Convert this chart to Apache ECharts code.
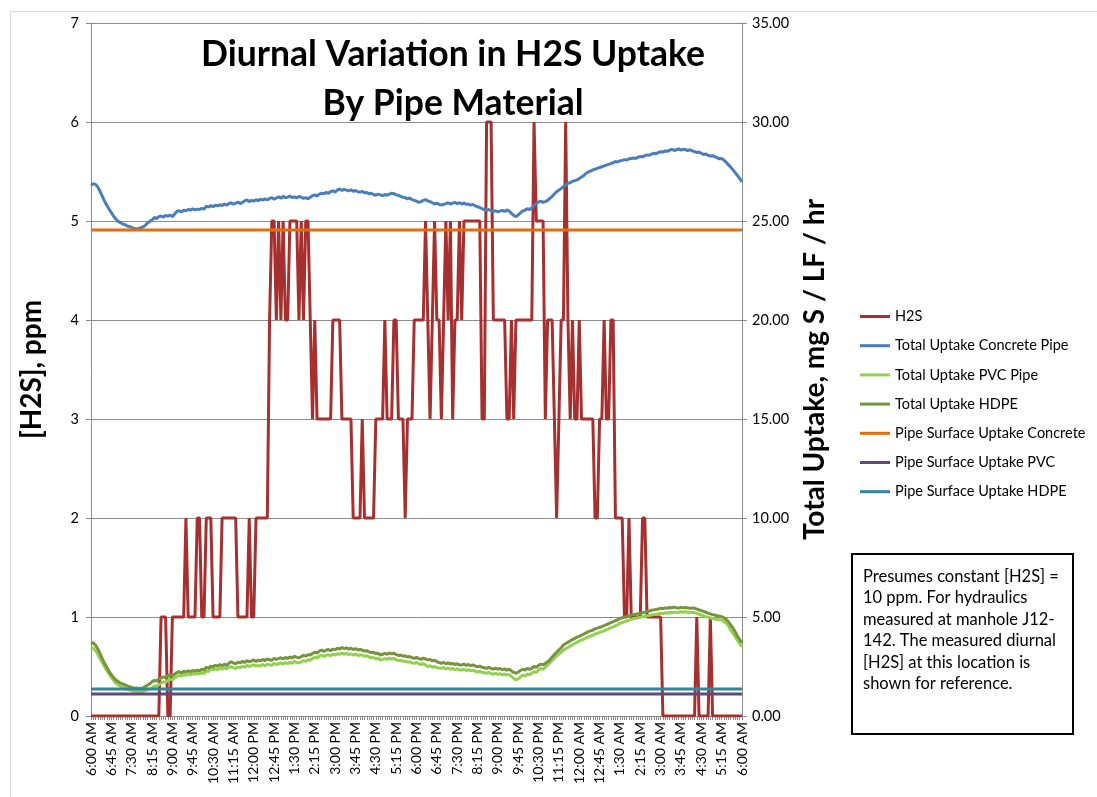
<!DOCTYPE html>
<html>
<head>
<meta charset="utf-8">
<script src="https://cdn.jsdelivr.net/npm/echarts@6.0.0/dist/echarts.min.js"></script>
<style>
  html, body { margin: 0; padding: 0; background: #ffffff; }
  #chart { width: 1097px; height: 797px; }
</style>
</head>
<body>
<div id="chart"></div>
<script>
// Measured [H2S] (ppm), one reading every 5 minutes from 6:00 AM to 6:00 AM
const h2s = [
  0,0,0,0,0,0,0,0,0,0,0,0,
  0,0,0,0,0,0,0,0,0,0,0,0,
  0,0,0,0,0,0,0,1,1,1,0,0,
  1,1,1,1,1,1,2,1,1,1,1,2,
  2,1,1,2,2,2,1,1,1,1,2,2,
  2,2,2,2,2,1,1,1,1,1,2,1,
  1,2,2,2,2,2,2,4,5,5,4,5,
  4,5,4,4,5,5,5,5,4,5,4,5,
  5,4,3,4,3,3,3,3,3,3,3,4,
  4,4,4,3,3,3,3,3,2,2,2,2,
  3,2,2,2,2,2,3,3,3,3,4,3,
  3,3,4,4,3,3,3,2,3,3,3,4,
  4,4,4,4,5,4,3,4,5,4,4,3,
  4,5,4,5,3,4,4,5,4,5,5,5,
  5,5,5,5,5,3,3,6,6,6,4,4,
  4,4,4,4,3,3,4,3,4,4,4,4,
  4,4,4,4,6,5,5,5,5,3,4,4,
  4,3,2,3,4,4,6,4,3,4,3,3,
  4,3,3,3,3,3,3,2,2,3,3,4,
  3,3,4,4,2,2,2,2,1,1,2,1,
  1,1,1,1,2,2,1,1,1,1,1,1,
  1,0,0,0,0,0,0,0,0,0,0,0,
  0,0,0,0,1,0,0,0,0,0,1,0,
  0,0,0,0,0,0,0,0,0,0,0,0,
  0
];

// Total uptake, mg S / LF / hr
const totalConcrete = [
  26.80,26.88,26.85,26.72,26.50,26.25,26.00,25.80,25.60,25.42,25.25,25.10,
  24.98,24.92,24.85,24.82,24.75,24.72,24.68,24.62,24.60,24.62,24.66,24.70,
  24.78,24.90,24.98,25.05,25.18,25.12,25.22,25.25,25.20,25.28,25.24,25.30,
  25.22,25.35,25.48,25.52,25.45,25.55,25.52,25.58,25.55,25.62,25.56,25.60,
  25.58,25.64,25.60,25.75,25.70,25.78,25.72,25.80,25.76,25.82,25.78,25.86,
  25.80,25.88,25.92,25.85,25.90,25.96,25.88,25.94,26.02,26.06,25.98,26.04,
  26.00,26.08,26.02,26.10,26.05,26.12,26.06,26.14,26.18,26.10,26.16,26.22,
  26.15,26.24,26.18,26.20,26.26,26.18,26.22,26.16,26.24,26.20,26.14,26.18,
  26.12,26.20,26.28,26.32,26.26,26.36,26.40,26.38,26.44,26.40,26.48,26.52,
  26.46,26.56,26.62,26.54,26.60,26.56,26.52,26.58,26.50,26.54,26.48,26.46,
  26.50,26.42,26.44,26.38,26.40,26.34,26.30,26.36,26.32,26.28,26.34,26.30,
  26.36,26.40,26.38,26.32,26.30,26.24,26.20,26.18,26.12,26.16,26.08,26.04,
  26.00,25.94,25.98,26.04,26.08,26.02,25.98,25.92,25.86,25.90,25.84,25.80,
  25.84,25.88,25.92,25.86,25.90,25.94,25.88,25.92,25.86,25.90,25.84,25.86,
  25.80,25.84,25.76,25.72,25.68,25.62,25.58,25.54,25.58,25.52,25.48,25.52,
  25.46,25.50,25.54,25.48,25.56,25.50,25.38,25.28,25.22,25.30,25.42,25.50,
  25.55,25.62,25.58,25.66,25.80,25.88,25.96,26.00,25.94,25.98,26.04,26.14,
  26.24,26.36,26.48,26.56,26.64,26.74,26.82,26.90,26.94,27.00,27.04,27.08,
  27.14,27.22,27.30,27.40,27.48,27.52,27.58,27.62,27.66,27.70,27.74,27.78,
  27.82,27.86,27.90,27.94,28.00,27.98,28.04,28.06,28.10,28.08,28.14,28.16,
  28.18,28.16,28.22,28.26,28.24,28.30,28.34,28.32,28.38,28.42,28.40,28.46,
  28.50,28.48,28.54,28.52,28.58,28.62,28.56,28.60,28.64,28.58,28.62,28.60,
  28.56,28.60,28.54,28.50,28.46,28.48,28.42,28.36,28.38,28.32,28.28,28.30,
  28.24,28.20,28.14,28.16,28.08,27.96,27.84,27.72,27.58,27.44,27.30,27.14,
  26.98
];

const totalPVC = [
  3.48,3.42,3.30,3.12,2.90,2.68,2.49,2.30,2.12,1.96,1.80,1.65,
  1.58,1.50,1.46,1.40,1.36,1.32,1.28,1.23,1.26,1.22,1.25,1.24,
  1.28,1.32,1.36,1.40,1.52,1.48,1.58,1.66,1.73,1.70,1.80,1.86,
  1.82,1.92,2.00,2.07,2.02,2.10,2.06,2.12,2.08,2.14,2.10,2.16,
  2.12,2.18,2.14,2.28,2.24,2.41,2.34,2.38,2.34,2.42,2.36,2.44,
  2.38,2.46,2.49,2.44,2.40,2.48,2.44,2.52,2.46,2.56,2.50,2.54,
  2.58,2.52,2.56,2.52,2.60,2.54,2.62,2.58,2.56,2.66,2.60,2.64,
  2.68,2.62,2.70,2.64,2.72,2.66,2.76,2.70,2.68,2.74,2.80,2.76,
  2.84,2.82,2.90,2.96,2.92,3.02,3.08,3.00,3.06,3.10,3.04,3.12,
  3.08,3.14,3.12,3.17,3.12,3.16,3.10,3.14,3.08,3.12,3.06,3.08,
  3.08,3.02,3.04,2.98,2.94,2.96,2.88,2.92,2.83,2.86,2.90,2.86,
  2.92,2.88,2.91,2.84,2.80,2.82,2.76,2.78,2.72,2.74,2.68,2.66,
  2.70,2.64,2.60,2.64,2.58,2.49,2.54,2.46,2.50,2.44,2.42,2.41,
  2.44,2.38,2.42,2.36,2.40,2.34,2.38,2.32,2.32,2.36,2.30,2.34,
  2.28,2.32,2.26,2.22,2.26,2.20,2.18,2.16,2.20,2.14,2.10,2.16,
  2.10,2.14,2.08,2.12,2.07,2.10,2.00,1.90,1.82,1.88,1.98,2.06,
  2.02,2.12,2.08,2.16,2.24,2.20,2.32,2.40,2.36,2.46,2.58,2.68,
  2.80,2.92,3.02,3.12,3.22,3.33,3.40,3.46,3.54,3.60,3.66,3.72,
  3.78,3.84,3.88,3.94,4.00,4.04,4.08,4.14,4.18,4.22,4.26,4.30,
  4.36,4.40,4.46,4.50,4.56,4.60,4.68,4.72,4.76,4.80,4.84,4.88,
  4.92,4.94,4.96,4.99,5.02,5.04,5.06,5.08,5.10,5.12,5.14,5.16,
  5.19,5.17,5.21,5.19,5.23,5.21,5.25,5.22,5.24,5.27,5.24,5.26,
  5.24,5.22,5.24,5.22,5.18,5.14,5.10,5.06,5.02,4.99,4.96,4.92,
  4.90,4.88,4.86,4.85,4.78,4.68,4.56,4.34,4.18,4.00,3.82,3.66,
  3.50
];

const totalHDPE = [
  3.65,3.70,3.58,3.40,3.15,2.90,2.66,2.45,2.25,2.08,1.95,1.82,
  1.74,1.66,1.62,1.57,1.52,1.48,1.44,1.40,1.42,1.38,1.40,1.42,
  1.48,1.56,1.62,1.73,1.80,1.76,1.86,1.92,1.98,1.94,2.04,2.08,
  2.02,2.12,2.20,2.24,2.18,2.26,2.22,2.28,2.24,2.30,2.26,2.32,
  2.28,2.36,2.32,2.46,2.42,2.52,2.48,2.56,2.52,2.60,2.54,2.62,
  2.56,2.66,2.74,2.68,2.64,2.72,2.68,2.76,2.70,2.80,2.74,2.78,
  2.83,2.76,2.82,2.78,2.86,2.80,2.88,2.84,2.82,2.91,2.86,2.90,
  2.94,2.88,2.96,2.90,2.98,2.92,3.02,2.96,2.94,3.00,3.06,3.02,
  3.10,3.08,3.16,3.22,3.18,3.28,3.33,3.26,3.32,3.36,3.30,3.38,
  3.34,3.42,3.38,3.46,3.40,3.44,3.38,3.42,3.36,3.40,3.34,3.36,
  3.33,3.28,3.30,3.24,3.20,3.22,3.14,3.18,3.08,3.12,3.16,3.12,
  3.18,3.14,3.17,3.10,3.06,3.08,3.02,3.04,2.98,3.00,2.94,2.91,
  2.96,2.90,2.86,2.92,2.88,2.83,2.86,2.78,2.82,2.74,2.70,2.66,
  2.70,2.64,2.68,2.62,2.66,2.60,2.64,2.58,2.58,2.62,2.56,2.60,
  2.54,2.58,2.52,2.48,2.52,2.46,2.44,2.41,2.46,2.40,2.36,2.42,
  2.36,2.40,2.34,2.38,2.32,2.36,2.28,2.20,2.16,2.22,2.30,2.36,
  2.32,2.40,2.36,2.41,2.50,2.46,2.56,2.62,2.58,2.66,2.74,2.84,
  2.98,3.10,3.22,3.34,3.44,3.59,3.66,3.72,3.80,3.86,3.92,3.98,
  4.02,4.09,4.14,4.20,4.26,4.30,4.34,4.40,4.44,4.48,4.51,4.56,
  4.62,4.66,4.72,4.76,4.82,4.86,4.93,4.96,5.00,5.02,5.06,5.08,
  5.12,5.14,5.16,5.19,5.22,5.24,5.28,5.30,5.34,5.36,5.38,5.40,
  5.44,5.42,5.46,5.44,5.48,5.46,5.50,5.47,5.45,5.49,5.46,5.48,
  5.46,5.44,5.46,5.44,5.40,5.36,5.32,5.28,5.24,5.19,5.16,5.12,
  5.10,5.06,5.04,5.02,4.96,4.88,4.76,4.60,4.44,4.24,4.04,3.86,
  3.70
];

// Pipe surface uptake, constant over the day
const surfaceConcrete = 24.55;
const surfacePVC = 1.11;
const surfaceHDPE = 1.36;

const seriesNames = [
  'H2S',
  'Total Uptake Concrete Pipe',
  'Total Uptake PVC Pipe',
  'Total Uptake HDPE',
  'Pipe Surface Uptake Concrete',
  'Pipe Surface Uptake PVC',
  'Pipe Surface Uptake HDPE'
];

const noteLines = [
  'Presumes constant [H2S] =',
  '10 ppm. For hydraulics',
  'measured at manhole J12-',
  '142. The measured diurnal',
  '[H2S] at this location is',
  'shown for reference.'
];

// 5-minute time stamps for the category axis
function clock(minutes) {
  const h24 = Math.floor(minutes / 60) % 24;
  const mm = minutes % 60;
  const ap = h24 < 12 ? 'AM' : 'PM';
  let h = h24 % 12;
  if (h === 0) h = 12;
  return h + ':' + String(mm).padStart(2, '0') + ' ' + ap;
}
const times = [];
for (let k = 0; k < h2s.length; k++) times.push(clock(360 + 5 * k));
const lastIdx = times.length - 1;

const FONT = 'Lato, "Open Sans", sans-serif';
const GRID = '#8c8c8c';

const chart = echarts.init(document.getElementById('chart'), null, { renderer: 'canvas' });

function lineSeries(name, data, axis, color, z) {
  return {
    name, type: 'line', data, yAxisIndex: axis,
    showSymbol: false, symbol: 'none', silent: true, z,
    lineStyle: { color, width: 3 },
    itemStyle: { color },
    emphasis: { disabled: true }
  };
}

const graphicItems = [
  // chart area frame
  { type: 'rect', shape: { x: 10.5, y: 11.5, width: 1100, height: 800 },
    style: { fill: 'none', stroke: '#d9d9d9', lineWidth: 1 }, silent: true },
  // note box
  { type: 'rect', shape: { x: 852, y: 554, width: 221, height: 180 },
    style: { fill: '#ffffff', stroke: '#000000', lineWidth: 2 }, silent: true },
  { type: 'text', left: 863, top: 566,
    style: { text: noteLines.join('\n'), font: '16.5px ' + FONT, fill: '#000', lineHeight: 21.4 },
    silent: true }
];

chart.setOption({
  animation: false,
  backgroundColor: '#ffffff',
  title: {
    text: 'Diurnal Variation in H2S Uptake\nBy Pipe Material',
    left: 448, top: 25, textAlign: 'center',
    textStyle: { fontFamily: FONT, fontWeight: 'bold', fontSize: 35.5, color: '#000', lineHeight: 49 }
  },
  grid: { left: 91, right: 355, top: 23, bottom: 81, containLabel: false },
  legend: {
    orient: 'vertical', left: 855, top: 303,
    icon: 'rect', itemWidth: 30, itemHeight: 3, itemGap: 12.2,
    selectedMode: false,
    textStyle: { fontFamily: FONT, fontSize: 14.5, color: '#000', lineHeight: 17 },
    data: seriesNames
  },
  xAxis: {
    type: 'category', data: times, boundaryGap: false,
    axisLine: { lineStyle: { color: GRID, width: 1 } },
    axisTick: { show: true, interval: 0, length: 4, lineStyle: { color: GRID } },
    axisLabel: { interval: 8, rotate: 90, margin: 6, fontFamily: FONT, fontSize: 14, color: '#000' },
    splitLine: { show: false }
  },
  yAxis: [
    {
      type: 'value', min: 0, max: 7, interval: 1, position: 'left',
      name: '[H2S], ppm', nameLocation: 'middle', nameRotate: 90, nameGap: 45,
      nameTextStyle: { fontFamily: FONT, fontWeight: 'bold', fontSize: 28, color: '#000' },
      axisLine: { show: true, lineStyle: { color: GRID } },
      axisTick: { show: true, length: 5, lineStyle: { color: GRID } },
      axisLabel: { margin: 12, fontFamily: FONT, fontSize: 14.5, color: '#000' },
      splitLine: { show: true, lineStyle: { color: GRID, width: 1 } }
    },
    {
      type: 'value', min: 0, max: 35, interval: 5, position: 'right',
      name: 'Total Uptake, mg S / LF / hr', nameLocation: 'middle', nameRotate: 90, nameGap: 59,
      nameTextStyle: { fontFamily: FONT, fontWeight: 'bold', fontSize: 28, color: '#000' },
      axisLine: { show: true, lineStyle: { color: GRID } },
      axisTick: { show: true, length: 5, lineStyle: { color: GRID } },
      axisLabel: { margin: 10, fontFamily: FONT, fontSize: 14.5, color: '#000',
                   formatter: v => v.toFixed(2) },
      splitLine: { show: false }
    }
  ],
  series: [
    lineSeries(seriesNames[0], h2s, 0, '#a5302f', 2),
    lineSeries(seriesNames[1], totalConcrete, 1, '#4a7ebb', 3),
    lineSeries(seriesNames[2], totalPVC, 1, '#92d050', 4),
    lineSeries(seriesNames[3], totalHDPE, 1, '#77933c', 5),
    lineSeries(seriesNames[4], [[0, surfaceConcrete], [lastIdx, surfaceConcrete]], 1, '#e46c0a', 6),
    lineSeries(seriesNames[5], [[0, surfacePVC], [lastIdx, surfacePVC]], 1, '#604a7b', 7),
    lineSeries(seriesNames[6], [[0, surfaceHDPE], [lastIdx, surfaceHDPE]], 1, '#31859c', 8)
  ],
  graphic: graphicItems
});
</script>
</body>
</html>
